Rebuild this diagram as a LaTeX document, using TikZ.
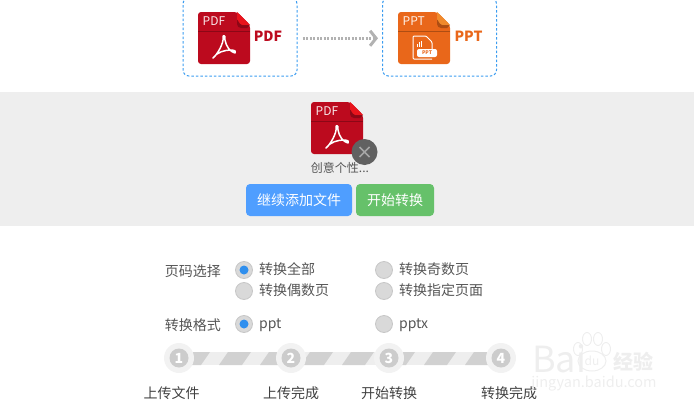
\documentclass[tikz,border=0pt]{standalone}
\usepackage{fontspec}
\setmainfont{Noto Sans CJK SC}
\usetikzlibrary{arrows.meta}
\usetikzlibrary{positioning}
\definecolor{linkblue}{HTML}{3B9CF0}
\definecolor{pdfred}{HTML}{BC0A1E}
\definecolor{foldred}{HTML}{E8141C}
\definecolor{pptorange}{HTML}{E9671A}
\definecolor{foldorange}{HTML}{F08A2C}
\definecolor{bandgray}{HTML}{EEEEEE}
\definecolor{labelgray}{HTML}{555555}
\definecolor{markgray}{HTML}{EEEEEE}
\definecolor{addblue}{HTML}{4F9EFF}
\definecolor{startgreen}{HTML}{66C16A}
\definecolor{radiodotblue}{HTML}{2F8FEE}
\tikzset{dropbox/.style={draw=linkblue,line width=1,dash pattern=on 2.5 off 2,rounded corners=6,minimum width=114,minimum height=78,inner sep=0}}
\tikzset{filename/.style={font=\fontsize{14}{14}\selectfont\bfseries,inner sep=0}}
\tikzset{actionbtn/.style={rounded corners=4,minimum height=32,inner sep=0,text=white,font=\fontsize{14}{14}\selectfont}}
\tikzset{radiobtn/.style={circle,draw=black!22,fill=black!15,line width=0.8,minimum size=17,inner sep=0}}
\tikzset{radiodot/.style={circle,fill=radiodotblue,minimum size=9,inner sep=0}}
\tikzset{optlabel/.style={text=labelgray,anchor=west,inner sep=0,text height=11,text depth=3,font=\fontsize{14}{14}\selectfont}}
\tikzset{steplabel/.style={text=black!75,inner sep=0,font=\fontsize{14}{14}\selectfont}}
\tikzset{stepring/.style={circle,fill=black!5,minimum size=30,inner sep=0}}
\tikzset{stepdot/.style={circle,fill=black!20,minimum size=19,inner sep=0,text=white,font=\fontsize{14}{14}\selectfont\bfseries}}
% file icon: left, top, body colour, fold colour, caption
\newcommand{\fileicon}[5]{
    \fill[#3,rounded corners=3] (#1,#2) -- (#1+39,#2) -- (#1+52,#2+13) -- (#1+52,#2+52) -- (#1,#2+52) -- cycle;
    \fill[#4] (#1+39,#2) -- (#1+52,#2+13) -- (#1+44,#2+13) to[out=180,in=90] (#1+39,#2+8) -- cycle;
    \fill[black,opacity=0.25] (#1+39,#2+8) to[out=90,in=180] (#1+44,#2+13) -- (#1+52,#2+13) -- (#1+49,#2+16) -- (#1+43,#2+16) to[out=180,in=270] (#1+39,#2+12) -- cycle;
    \draw[black,opacity=0.25,line width=0.7] (#1,#2+19.5) -- (#1+52,#2+19.5);
    \node[white,inner sep=0,anchor=west,opacity=0.9,font=\fontsize{12}{12}\selectfont] at (#1+4.5,#2+9.5) {#5};
}
% the curly sign on the pdf file
\newcommand{\pdfsign}[2]{
    \draw[white,line width=1.5,line join=round] (#1+15,#2+46) .. controls (#1+20,#2+42) and (#1+26,#2+30) .. (#1+25,#2+26) .. controls (#1+24,#2+23) and (#1+28,#2+22) .. (#1+27,#2+28) .. controls (#1+28,#2+34) and (#1+32,#2+40) .. (#1+37,#2+41) .. controls (#1+39,#2+40) and (#1+37,#2+38) .. (#1+33,#2+38) .. controls (#1+27,#2+38) and (#1+19,#2+40) .. (#1+15,#2+46) -- cycle;
}

\begin{document}
\begin{tikzpicture}[x=1pt,y=-1pt]
        \useasboundingbox (0,0) rectangle (694,407);

        % Top row
        \node[dropbox] (pdfbox) at (240,37) {};
        \node[dropbox] (pptbox) at (439.5,37) {};
        \fileicon{198}{12}{pdfred}{foldred}{PDF}
        \pdfsign{198}{12}
        \fileicon{398}{12}{pptorange}{foldorange}{PPT}
        \draw[white,line width=1,rounded corners=1] (432,59) -- (413,59) -- (413,36) -- (426,36) -- (432,42) -- (432,49);
        \fill[white,rounded corners=2] (417,49) rectangle (437,57);
        \node[pptorange,inner sep=0,font=\fontsize{5}{5}\selectfont\bfseries] (pptsign) at (427,53) {PPT};
        \foreach \h in {1,2,3}
            \fill[white] (414.5+2*\h,47) rectangle +(1.3,-2-1.5*\h);
        \node[filename,text=pdfred] (pdfname) at (268,36) {PDF};
        \node[filename,text=pptorange] (pptname) at (468.5,36) {PPT};
        \draw[black!30,line width=3,dash pattern=on 2 off 1.5,
            -{Straight Barb[length=6,width=15,line width=3]},
            shorten <=5,shorten >=4] (pdfbox.east |- 0,38.3) -- (pptbox.west |- 0,38.3);

        % Gray band
        \fill[bandgray] (0,92) rectangle (694,226);
        \fileicon{311}{102}{pdfred}{foldred}{PDF}
        \pdfsign{311}{102}
        \node[circle,fill=black!62,minimum size=26,inner sep=0] (closebtn) at (364.5,152) {};
        \draw[black!35,line width=1.5] (closebtn.center) +(-5,-5) -- +(5,5) (closebtn.center) +(-5,5) -- +(5,-5);
        \node[text=labelgray,inner sep=0,font=\fontsize{12}{12}\selectfont] (uploadname) at (340,168) {创意个性...};
        \node[actionbtn,fill=addblue,minimum width=106] (addbtn) at (299,200) {继续添加文件};
        \node[actionbtn,fill=startgreen,minimum width=78] (startbtn) at (395,200) {开始转换};

        % Options
        \node[optlabel,anchor=east] (pagelabel) at (221,272) {页码选择};
        \node[optlabel,anchor=east] (formatlabel) at (221,326) {转换格式};
        \foreach \name/\x/\y/\txt in {all/244/270/转换全部,odd/384/270/转换奇数页,even/244/291/转换偶数页,some/384/291/转换指定页面,ppt/244/324/ppt,pptx/384/324/pptx}
        {
            \node[radiobtn] (\name) at (\x,\y) {};
            \node[optlabel,right=6 of \name] (\name text) {\txt};
        }
        \node[radiodot] (alldot) at (all) {};
        \node[radiodot] (pptdot) at (ppt) {};

        % Step bar
        \fill[bandgray] (179,352) rectangle (501,365);
        \begin{scope}
            \clip (179,352) rectangle (501,365);
            \foreach \k in {0,...,7}
            {
                \pgfmathsetmacro{\sx}{178+41*\k}
                \fill[black!18] (\sx,365) -- (\sx+23,365) -- (\sx+32,352) -- (\sx+9,352) -- cycle;
            }
        \end{scope}
        \foreach \n/\x/\txt/\lx in {1/179/上传文件/171.5,2/291/上传完成/291,3/389/开始转换/389,4/501/转换完成/509}
        {
            \node[stepring] (ring\n) at (\x,358) {};
            \node[stepdot] (dot\n) at (ring\n) {\n};
            \node[steplabel] (steplabel\n) at (\lx,393) {\txt};
        }

        % Watermark
        \node[markgray,inner sep=0,font=\fontsize{36}{36}\selectfont] (markbai) at (559,359) {Bai};
        \node[markgray,inner sep=0,font=\fontsize{20}{20}\selectfont\bfseries] (markjy) at (633,362) {经验};
        \node[markgray,inner sep=0,font=\fontsize{14.5}{14.5}\selectfont] (markurl) at (594,384) {jingyan.baidu.com};
        \draw[markgray,line width=1] (592,361) ellipse (14 and 10);
        \node[markgray,inner sep=0,font=\fontsize{12}{12}\selectfont] (markdu) at (592,361) {du};
        \foreach \px/\py in {578/349,587/339,598/339,606/349}
            \draw[markgray,line width=1] (\px,\py) ellipse (4.5 and 6.5);
    \end{tikzpicture}
\end{document}
